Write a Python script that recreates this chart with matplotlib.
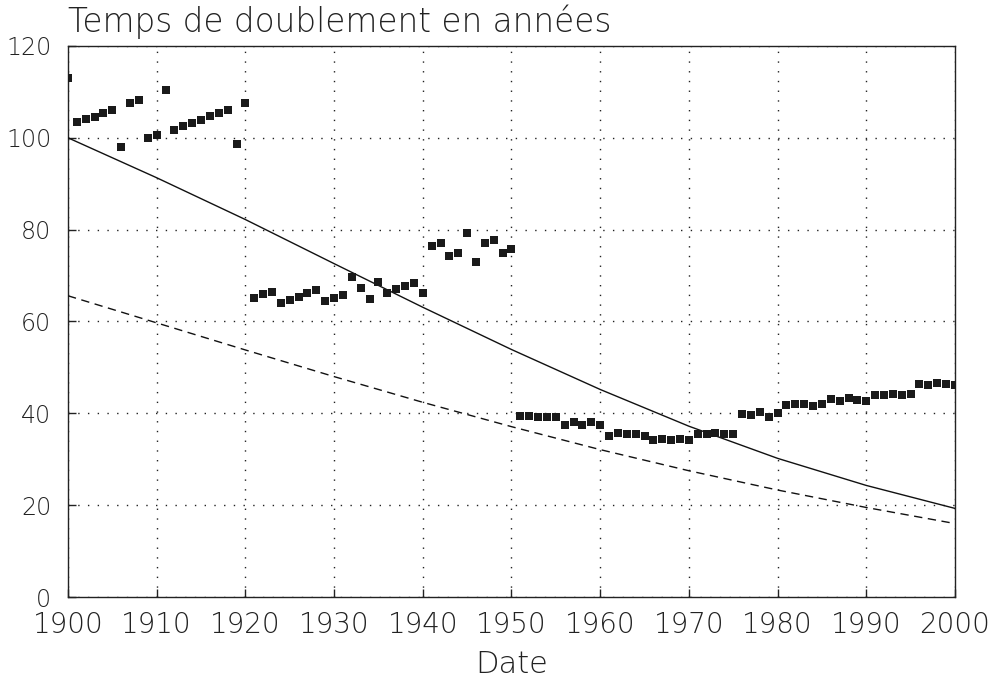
import matplotlib
matplotlib.use("Agg")
import matplotlib.pyplot as plt
import numpy as np

# ---- data ----
years = list(range(1900, 2001))
doubling_time = [
    113.0, 103.4, 104.0, 104.6, 105.3, 106.1, 97.9, 107.5, 108.2, 99.9,
    100.6, 110.4, 101.8, 102.6, 103.3, 103.9, 104.7, 105.3, 106.1, 98.6,
    107.5, 65.2, 65.9, 66.5, 64.1, 64.7, 65.4, 66.1, 66.8, 64.5,
    65.2, 65.8, 69.7, 67.2, 65.0, 68.6, 66.3, 67.0, 67.7, 68.4,
    66.3, 76.4, 77.1, 74.2, 74.9, 79.2, 73.0, 77.1, 77.7, 75.0,
    75.7, 39.5, 39.5, 39.3, 39.2, 39.1, 37.4, 38.1, 37.4, 38.1,
    37.4, 35.0, 35.7, 35.4, 35.5, 35.1, 34.3, 34.5, 34.3, 34.4,
    34.1, 35.4, 35.6, 35.7, 35.6, 35.4, 39.9, 39.6, 40.2, 39.3,
    40.1, 41.9, 42.0, 42.1, 41.7, 42.0, 43.1, 42.7, 43.4, 43.0,
    42.7, 43.9, 44.1, 44.3, 44.0, 44.2, 46.4, 46.1, 46.7, 46.4,
    46.1,
]
curve_years = [1900, 1910, 1920, 1930, 1940, 1950, 1960, 1970, 1980, 1990, 2000]
solid_curve = [100.0, 91.3, 82.2, 72.6, 63.1, 53.9, 45.2, 37.2, 30.2, 24.3, 19.3]
dashed_curve = [65.6, 59.7, 53.8, 48.0, 42.4, 37.1, 32.1, 27.5, 23.3, 19.5, 16.0]
x_ticks = list(range(1900, 2001, 10))
y_ticks = [0, 20, 40, 60, 80, 100, 120]
title = "Temps de doublement en années"
xlabel = "Date"

plt.rcParams['font.family'] = ['DejaVu Sans']

fig = plt.figure(figsize=(9.9, 6.82), dpi=100)
ax = fig.add_axes([0.0687, 0.1246, 0.8959, 0.808])

ax.plot(curve_years, solid_curve, color='#111111', lw=1.0, zorder=3)
ax.plot(curve_years, dashed_curve, color='#111111', lw=1.0,
        dashes=(6, 4), zorder=3)
ax.plot(years, doubling_time, linestyle='none', marker='s', markersize=5.5,
        color='#1a1a1a', markeredgewidth=0, zorder=4)

ax.set_xlim(1900, 2000)
ax.set_ylim(0, 120)
ax.set_xticks(x_ticks)
ax.set_yticks(y_ticks)
ax.grid(True, color='#222222', linestyle=(0, (1, 6)), linewidth=1.0)
ax.tick_params(direction='in', length=6, width=1, colors='#222222')
ax.tick_params(axis='x', labelsize=20, pad=10)
ax.tick_params(axis='y', labelsize=17, pad=12)
for lab in ax.get_xticklabels() + ax.get_yticklabels():
    lab.set_fontweight('light')
for s in ax.spines.values():
    s.set_linewidth(1.0)
    s.set_color('#222222')

ax.set_xlabel(xlabel, fontsize=22, color='#222222', labelpad=8,
              fontweight='light')
ax.text(0.0, 1.012, title, transform=ax.transAxes, fontsize=23.5,
        color='#222222', ha='left', va='bottom', fontweight='light')

fig.savefig("out.png", dpi=100)
